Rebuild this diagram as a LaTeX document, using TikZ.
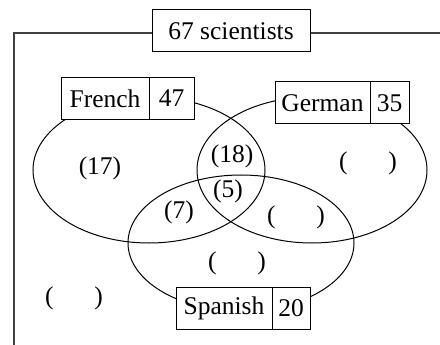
\documentclass[tikz,border=0pt]{standalone}
\usepackage{fontspec}
\setmainfont{Liberation Serif}
\usepackage{tikz}
\usetikzlibrary{positioning}

\begin{document}
\begin{tikzpicture}
            [x=1pt,y=-1pt,line width=1pt,
             every node/.style={font=\fontsize{25.5pt}{30pt}\selectfont},
             box/.style={draw,fill=white,rectangle,minimum height=42pt,inner sep=0pt}]
            \useasboundingbox (0,0) rectangle (440,345);
            % the three sets
            \draw (149,170) ellipse [x radius=116pt,y radius=73pt];
            \draw (312,170) ellipse [x radius=115pt,y radius=73pt];
            \draw (241,243) ellipse [x radius=113pt,y radius=68pt];
            % the frame
            \node[box,minimum width=158pt] (all) at (231,31) {67 scientists};
            \coordinate (corner) at (14,33);
            \coordinate (bottom) at (14,345);
            \coordinate (edge) at (440,33);
            \draw[line width=1.3pt,black!75] (all.west |- corner) -- (corner) -- (bottom);
            \draw[line width=1.3pt,black!75] (all.east |- edge) -- (edge);
            % the set names
            \node[box,minimum width=88pt] (french) at (105,98.5) {French};
            \node[box,minimum width=45pt,right=-1pt of french] (frn) {47};
            \node[box,minimum width=95pt] (german) at (322.5,103) {German};
            \node[box,minimum width=39pt,right=-1pt of german] (gern) {35};
            \node[box,minimum width=96pt] (spanish) at (224,308) {Spanish};
            \node[box,minimum width=38pt,right=-1pt of spanish] (spn) {20};
            % the regions
            \node (f) at (100,168) {(17)};
            \node (fg) at (232,156) {(18)};
            \node (fgs) at (228,191) {(5)};
            \node (fs) at (179,212) {(7)};
            \node (g) at (368,163) {(\hspace{1.6em})};
            \node (gs) at (296,217) {(\hspace{1.6em})};
            \node (s) at (237,263) {(\hspace{1.6em})};
            \node (none) at (74,298) {(\hspace{1.6em})};
        \end{tikzpicture}
\end{document}
